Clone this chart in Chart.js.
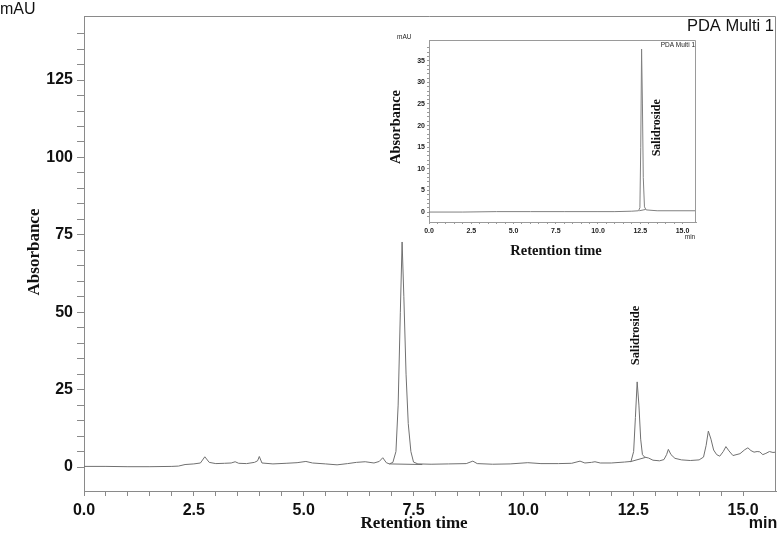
<!DOCTYPE html>
<html>
<head>
<meta charset="utf-8">
<script src="https://cdn.jsdelivr.net/npm/chart.js@4/dist/chart.umd.min.js"></script>
<style>
  body { margin: 0; background: #fff; }
  #wrap { position: relative; width: 778px; height: 535px; }
  #main { position: absolute; left: 0; top: 0; }
  #inset { position: absolute; left: 385px; top: 30px; }
</style>
</head>
<body>
<div id="wrap">
  <canvas id="main" width="778" height="535"></canvas>
  <canvas id="inset" width="315" height="232"></canvas>
</div>
<script>
// main chromatogram (sample), min / mAU
const retentionTime = [0.0, 0.5, 1.0, 1.5, 2.0, 2.15, 2.3, 2.5, 2.65, 2.75, 2.85, 3.0, 3.2, 3.35, 3.44, 3.52, 3.7, 3.88, 3.95, 3.99,
  4.05, 4.3, 4.6, 4.85, 5.05, 5.2, 5.5, 5.76, 6.0, 6.2, 6.4, 6.6, 6.72, 6.8, 6.88, 6.95, 7.03, 7.1, 7.15, 7.2,
  7.24, 7.28, 7.33, 7.38, 7.44, 7.5, 7.6, 7.9, 8.3, 8.7, 8.85, 8.95, 9.3, 9.7, 10.1, 10.4, 10.8, 11.1, 11.29, 11.4,
  11.55, 11.63, 11.75, 12.0, 12.3, 12.45, 12.51, 12.55, 12.59, 12.63, 12.67, 12.71, 12.76, 12.85, 12.95, 13.1, 13.2, 13.26, 13.3, 13.36,
  13.45, 13.6, 13.8, 14.0, 14.1, 14.16, 14.21, 14.27, 14.33, 14.4, 14.47, 14.55, 14.61, 14.68, 14.77, 14.93, 15.04, 15.11, 15.18, 15.25,
  15.32, 15.38, 15.45, 15.52, 15.6, 15.68, 15.75];
const absorbance = [0.2, 0.2, 0.1, 0.1, 0.2, 0.3, 0.8, 1.0, 1.3, 3.3, 1.5, 1.1, 1.2, 1.3, 1.7, 1.2, 1.1, 1.5, 2.0, 3.4,
  1.3, 1.0, 1.2, 1.4, 1.8, 1.3, 1.0, 0.7, 1.1, 1.5, 1.7, 1.3, 1.8, 3.0, 1.4, 1.0, 1.5, 5, 20, 50,
  72.7, 55, 30, 14, 5, 1.6, 1.0, 0.9, 1.0, 1.1, 1.9, 1.1, 0.9, 1.0, 1.4, 1.1, 1.1, 1.2, 1.9, 1.3,
  1.5, 1.7, 1.3, 1.3, 1.6, 1.8, 5, 16, 27.5, 20, 9, 4, 3.2, 2.9, 2.2, 2.0, 2.4, 4.0, 5.7, 4.0,
  2.8, 2.3, 2.1, 2.3, 3.2, 7, 11.6, 9, 5.5, 4.0, 3.5, 5.0, 6.6, 5.2, 3.7, 4.3, 5.6, 6.2, 5.3, 4.8,
  5.0, 4.9, 4.0, 4.4, 5.0, 4.7, 4.8];
// integration baselines drawn under the two big peaks
const dropTime1 = [6.95, 7.7];
const dropAbs1 = [1.0, 0.8];
const dropTime2 = [12.43, 12.78];
const dropAbs2 = [1.7, 3.1];

// inset chromatogram (standard)
const stdTime = [0.0, 2.0, 4.0, 6.0, 8.0, 10.0, 11.0, 12.0, 12.4, 12.48, 12.53, 12.58, 12.63, 12.68, 12.75, 12.85, 13.5, 15.8];
const stdAbs = [0.0, 0.0, 0.1, 0.1, 0.1, 0.1, 0.1, 0.2, 0.3, 1.0, 15, 37.7, 25, 8, 1.2, 0.5, 0.3, 0.3];
const stdDropTime = [12.44, 12.82];
const stdDropAbs = [0.3, 0.6];

const peakLabel = 'Salidroside';
const peakTime = 12.59;

function pts(xs, ys) {
  return xs.map((x, i) => ({ x: x, y: ys[i] }));
}

function onStep(v, step) {
  return Math.abs(v / step - Math.round(v / step)) < 1e-6;
}

const lineColor = '#707070';
const axisColor = '#8a8a8a';

// ---------- main chart ----------
const mainDecor = {
  id: 'mainDecor',
  afterDraw(chart) {
    const ctx = chart.ctx;
    const a = chart.chartArea;
    const xs = chart.scales.x;
    const ys = chart.scales.y;
    ctx.save();
    // frame top + right
    ctx.strokeStyle = axisColor;
    ctx.lineWidth = 1;
    ctx.beginPath();
    ctx.moveTo(a.left, a.top + 0.5);
    ctx.lineTo(a.right - 0.5, a.top + 0.5);
    ctx.lineTo(a.right - 0.5, a.bottom);
    ctx.stroke();

    ctx.fillStyle = '#111';
    ctx.font = '16px "Liberation Sans"';
    ctx.textAlign = 'left';
    ctx.textBaseline = 'middle';
    ctx.fillText('mAU', 0, 10);

    ctx.font = '16.5px "Liberation Sans"';
    ctx.textAlign = 'right';
    ctx.textBaseline = 'alphabetic';
    ctx.fillText('PDA Multi 1', 774, 31);

    ctx.font = 'bold 16px "Liberation Sans"';
    ctx.textAlign = 'center';
    ctx.textBaseline = 'middle';
    ctx.fillText('min', 763, 524);

    ctx.font = 'bold 17px "Liberation Serif"';
    ctx.fillText('Retention time', 414, 524);

    ctx.save();
    ctx.translate(35, 252);
    ctx.rotate(-Math.PI / 2);
    ctx.fillText('Absorbance', 0, 0);
    ctx.restore();

    // peak name above salidroside peak
    ctx.font = 'bold 12.5px "Liberation Serif"';
    ctx.save();
    ctx.translate(xs.getPixelForValue(peakTime) - 1, ys.getPixelForValue(42.5));
    ctx.rotate(-Math.PI / 2);
    ctx.fillText(peakLabel, 0, 0);
    ctx.restore();
    ctx.restore();
  }
};

new Chart(document.getElementById('main'), {
  type: 'line',
  data: {
    datasets: [
      { data: pts(retentionTime, absorbance) },
      { data: pts(dropTime1, dropAbs1) },
      { data: pts(dropTime2, dropAbs2) }
    ]
  },
  options: {
    responsive: false,
    animation: false,
    devicePixelRatio: 1,
    layout: { padding: { top: 16, right: 2, left: 0, bottom: 0 } },
    elements: {
      point: { radius: 0 },
      line: { borderColor: lineColor, borderWidth: 1, tension: 0, fill: false }
    },
    plugins: { legend: { display: false }, tooltip: { enabled: false } },
    scales: {
      x: {
        type: 'linear',
        min: 0,
        max: 15.75,
        afterFit(scale) { scale.height = 44; },
        afterBuildTicks(scale) { scale.ticks = scale.ticks.filter(t => onStep(t.value, 0.5)); },
        border: { color: axisColor, width: 1 },
        grid: { drawOnChartArea: false, drawTicks: true, tickLength: 5, color: axisColor },
        ticks: {
          stepSize: 0.5,
          autoSkip: false,
          maxRotation: 0,
          padding: 5,
          color: '#111',
          font: { family: 'Liberation Sans', size: 16, weight: 'bold' },
          callback: v => onStep(v, 2.5) ? v.toFixed(1) : ''
        }
      },
      y: {
        min: -7.75,
        max: 145.7,
        afterFit(scale) { scale.width = 84; },
        afterBuildTicks(scale) { scale.ticks = scale.ticks.filter(t => onStep(t.value, 5)); },
        border: { color: axisColor, width: 1 },
        grid: { drawOnChartArea: false, drawTicks: true, tickLength: 7, color: axisColor },
        ticks: {
          stepSize: 5,
          autoSkip: false,
          padding: 4,
          color: '#111',
          font: { family: 'Liberation Sans', size: 16, weight: 'bold' },
          callback: v => onStep(v, 25) ? String(v) : ''
        }
      }
    }
  },
  plugins: [mainDecor]
});

// ---------- inset chart ----------
const insetDecor = {
  id: 'insetDecor',
  afterDraw(chart) {
    const ctx = chart.ctx;
    const a = chart.chartArea;
    const xs = chart.scales.x;
    const ys = chart.scales.y;
    ctx.save();
    ctx.strokeStyle = '#9a9a9a';
    ctx.lineWidth = 1;
    ctx.beginPath();
    ctx.moveTo(a.left, a.top + 0.5);
    ctx.lineTo(a.right - 0.5, a.top + 0.5);
    ctx.lineTo(a.right - 0.5, a.bottom);
    ctx.stroke();

    ctx.fillStyle = '#222';
    ctx.font = '6.5px "Liberation Sans"';
    ctx.textAlign = 'left';
    ctx.textBaseline = 'middle';
    ctx.fillText('mAU', 12, 7);
    ctx.textAlign = 'right';
    ctx.fillText('PDA Multi 1', a.right - 1, a.top + 5);
    ctx.textAlign = 'center';
    ctx.fillText('min', 305, 207);

    ctx.fillStyle = '#111';
    ctx.font = 'bold 14.5px "Liberation Serif"';
    ctx.fillText('Retention time', 171, 221);
    ctx.save();
    ctx.translate(11, 97);
    ctx.rotate(-Math.PI / 2);
    ctx.fillText('Absorbance', 0, 0);
    ctx.restore();

    ctx.font = 'bold 12px "Liberation Serif"';
    ctx.save();
    ctx.translate(xs.getPixelForValue(peakTime) + 15, ys.getPixelForValue(19.5));
    ctx.rotate(-Math.PI / 2);
    ctx.fillText(peakLabel, 0, 0);
    ctx.restore();
    ctx.restore();
  }
};

new Chart(document.getElementById('inset'), {
  type: 'line',
  data: {
    datasets: [
      { data: pts(stdTime, stdAbs) },
      { data: pts(stdDropTime, stdDropAbs) }
    ]
  },
  options: {
    responsive: false,
    animation: false,
    devicePixelRatio: 1,
    layout: { padding: { top: 10, right: 4, left: 0, bottom: 0 } },
    elements: {
      point: { radius: 0 },
      line: { borderColor: '#808080', borderWidth: 1, tension: 0, fill: false }
    },
    plugins: { legend: { display: false }, tooltip: { enabled: false } },
    scales: {
      x: {
        type: 'linear',
        min: 0,
        max: 15.8,
        afterFit(scale) { scale.height = 40; },
        afterBuildTicks(scale) { scale.ticks = scale.ticks.filter(t => onStep(t.value, 0.5)); },
        border: { color: '#9a9a9a', width: 1 },
        grid: { drawOnChartArea: false, drawTicks: true, tickLength: 2, color: '#9a9a9a' },
        ticks: {
          stepSize: 0.5,
          autoSkip: false,
          maxRotation: 0,
          padding: 3,
          color: '#222',
          font: { family: 'Liberation Sans', size: 7, weight: 'bold' },
          callback: v => onStep(v, 2.5) ? v.toFixed(1) : ''
        }
      },
      y: {
        min: -2.3,
        max: 39.8,
        afterFit(scale) { scale.width = 44; },
        afterBuildTicks(scale) { scale.ticks = scale.ticks.filter(t => onStep(t.value, 1)); },
        border: { color: '#9a9a9a', width: 1 },
        grid: { drawOnChartArea: false, drawTicks: true, tickLength: 2, color: '#9a9a9a' },
        ticks: {
          stepSize: 1,
          autoSkip: false,
          padding: 2,
          color: '#222',
          font: { family: 'Liberation Sans', size: 7, weight: 'bold' },
          callback: v => onStep(v, 5) ? String(v) : ''
        }
      }
    }
  },
  plugins: [insetDecor]
});
</script>
</body>
</html>
